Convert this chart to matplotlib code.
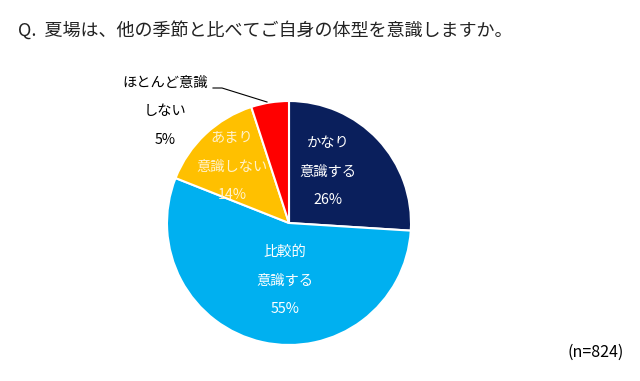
import matplotlib.pyplot as plt

plt.rcParams['font.family'] = ['Noto Sans CJK JP', 'DejaVu Sans']

# Data
labels = ["かなり\n意識する", "比較的\n意識する", "あまり\n意識しない", "ほとんど意識\nしない"]
values = [26, 55, 14, 5]
colors = ["#0A1F5C", "#00B0F0", "#FFC000", "#FF0000"]
text_colors = ["white", "white", "#FFF2CC", "black"]

title = "Q.  夏場は、他の季節と比べてご自身の体型を意識しますか。"
note = "(n=824)"

W, H = 640, 381
fig = plt.figure(figsize=(W / 100, H / 100), dpi=100)
ax = fig.add_axes([0, 0, 1, 1])

cx, cy, r = 289, H - 223, 122
ax.pie(values, colors=colors, startangle=90, counterclock=False,
       center=(cx, cy), radius=r, frame=True,
       wedgeprops=dict(edgecolor="white", linewidth=1.5))
ax.set_xlim(0, W)
ax.set_ylim(0, H)
ax.set_aspect("equal")
ax.axis("off")

# label positions (pixel coords from top)
label_pos = [(328, 143), (285, 252), (232, 138), (165, 83)]
for lab, v, (x, y), tc in zip(labels, values, label_pos, text_colors):
    lines = lab.split("\n") + [f"{v}%"]
    for i, line in enumerate(lines):
        ax.text(x, H - (y + i * 28.5), line, ha="center", va="center",
                fontsize=10.3, color=tc)

# leader line for the small slice
ax.plot([213, 222, 267], [H - 88, H - 88, H - 102], color="black", lw=0.8)

fig.text(18 / W, 1 - 30 / H, title, ha="left", va="center", fontsize=13, color="#222222")
fig.text(596 / W, 1 - 352 / H, note, ha="center", va="center", fontsize=11.5, color="black")

fig.savefig("out.png", dpi=100)
